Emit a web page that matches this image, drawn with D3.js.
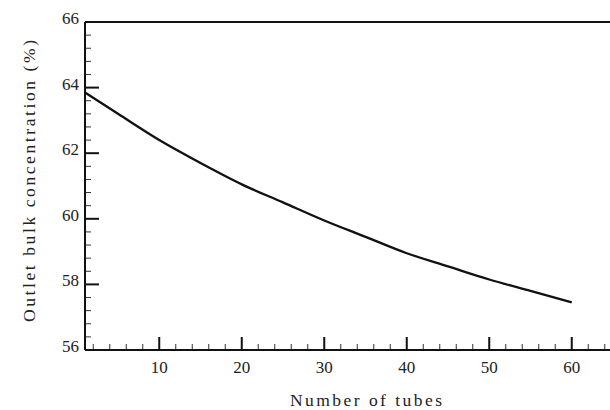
<!DOCTYPE html>
<html>
<head>
<meta charset="utf-8">
<script src="https://cdn.jsdelivr.net/npm/d3@7"></script>
<style>
  body { margin: 0; background: #fff; }
  text { font-family: "Liberation Serif", "DejaVu Serif", serif; fill: #222; }
</style>
</head>
<body>
<div id="chart"></div>
<script>
// curve
const tubes = [1, 5, 10, 15, 20, 25, 30, 35, 40, 45, 50, 55, 60];
const conc = [63.85, 63.2, 62.4, 61.7, 61.05, 60.5, 59.95, 59.45, 58.95, 58.55, 58.15, 57.8, 57.45];
const xTicks = [10, 20, 30, 40, 50, 60];
const yTicks = [56, 58, 60, 62, 64, 66];

const svgWidth = 610, svgHeight = 410;
const x = d3.scaleLinear().domain([1, 65]).range([85, 613]);
const y = d3.scaleLinear().domain([56, 66]).range([350, 22]);

const svg = d3.select('#chart').append('svg')
  .attr('width', svgWidth)
  .attr('height', svgHeight);

// minor ticks
const xMinor = d3.range(2, 65, 2).filter(v => v % 10 !== 0);
const yMinor = d3.range(56.4, 66, 0.4).filter(v => Math.abs(v / 2 - Math.round(v / 2)) > 0.01);

svg.append('g').selectAll('line')
  .data(xMinor).enter().append('line')
  .attr('x1', d => x(d)).attr('x2', d => x(d))
  .attr('y1', y(56)).attr('y2', y(56) - 6)
  .attr('stroke', '#333').attr('stroke-width', 1);

svg.append('g').selectAll('line')
  .data(yMinor).enter().append('line')
  .attr('x1', x(1)).attr('x2', x(1) + 6)
  .attr('y1', d => y(d)).attr('y2', d => y(d))
  .attr('stroke', '#333').attr('stroke-width', 1);

// major ticks
svg.append('g').selectAll('line')
  .data(xTicks).enter().append('line')
  .attr('x1', d => x(d)).attr('x2', d => x(d))
  .attr('y1', y(56)).attr('y2', y(56) - 13)
  .attr('stroke', '#111').attr('stroke-width', 2);

svg.append('g').selectAll('line')
  .data(yTicks).enter().append('line')
  .attr('x1', x(1)).attr('x2', x(1) + 14)
  .attr('y1', d => y(d)).attr('y2', d => y(d))
  .attr('stroke', '#111').attr('stroke-width', 2);

// frame: left, bottom, top
svg.append('line')
  .attr('x1', x(1)).attr('x2', x(1)).attr('y1', y(66)).attr('y2', y(56))
  .attr('stroke', '#111').attr('stroke-width', 2);
svg.append('line')
  .attr('x1', x(1)).attr('x2', svgWidth).attr('y1', y(56)).attr('y2', y(56))
  .attr('stroke', '#111').attr('stroke-width', 2);
svg.append('line')
  .attr('x1', x(1)).attr('x2', svgWidth).attr('y1', y(66)).attr('y2', y(66))
  .attr('stroke', '#111').attr('stroke-width', 2);

// tick labels
svg.append('g').selectAll('text')
  .data(xTicks).enter().append('text')
  .attr('x', d => x(d)).attr('y', y(56) + 23)
  .attr('text-anchor', 'middle')
  .style('font-size', '17px')
  .text(d => d);

svg.append('g').selectAll('text')
  .data(yTicks).enter().append('text')
  .attr('x', x(1) - 6).attr('y', d => y(d) + 2)
  .attr('text-anchor', 'end')
  .style('font-size', '17px')
  .text(d => d);

// curve
const line = d3.line()
  .curve(d3.curveMonotoneX)
  .x((d, i) => x(tubes[i]))
  .y(d => y(d));

svg.append('path')
  .datum(conc)
  .attr('d', line)
  .attr('fill', 'none')
  .attr('stroke', '#111')
  .attr('stroke-width', 2.3);

// axis titles
svg.append('text')
  .attr('x', 366).attr('y', 406)
  .attr('text-anchor', 'middle')
  .attr('textLength', 152)
  .attr('lengthAdjust', 'spacing')
  .style('font-size', '17.5px')
  .text('Number of tubes');

svg.append('text')
  .attr('transform', 'translate(35,181) rotate(-90)')
  .attr('text-anchor', 'middle')
  .attr('textLength', 282)
  .attr('lengthAdjust', 'spacing')
  .style('font-size', '17.5px')
  .text('Outlet bulk concentration (%)');
</script>
</body>
</html>
